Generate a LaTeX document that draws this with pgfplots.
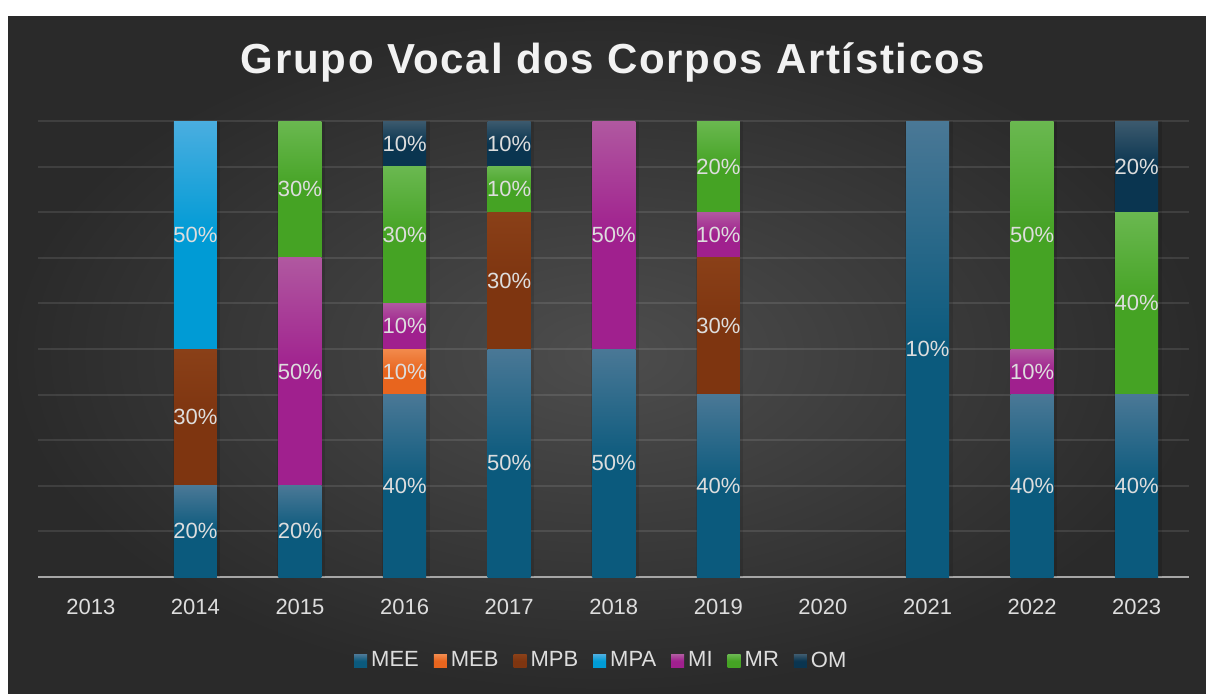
\documentclass[border=0pt]{standalone}
\usepackage{fontspec}
\setmainfont{Liberation Sans}
\newfontfamily\titlefont[LetterSpace=4]{Liberation Sans}
\usepackage{pgfplots}
\usepackage{pgfplotstable}
\pgfplotsset{compat=1.18}

\definecolor{bgin}{HTML}{4D4D4D}
\definecolor{bgout}{HTML}{2A2A2A}
\definecolor{basec}{HTML}{A6A6A6}
\definecolor{labc}{HTML}{DDDDDD}
\definecolor{titlec}{HTML}{F2F2F2}
% top / bottom colours of each series
\definecolor{meeT}{HTML}{4A7896}\definecolor{meeB}{HTML}{0B5A7D}
\definecolor{mebT}{HTML}{F28A4C}\definecolor{mebB}{HTML}{E8651E}
\definecolor{mpbT}{HTML}{8A4018}\definecolor{mpbB}{HTML}{7E3510}
\definecolor{mpaT}{HTML}{4AAEE0}\definecolor{mpaB}{HTML}{009BD5}
\definecolor{miT}{HTML}{B058A0}\definecolor{miB}{HTML}{A0208E}
\definecolor{mrT}{HTML}{6AB850}\definecolor{mrB}{HTML}{45A324}
\definecolor{omT}{HTML}{3C5A6E}\definecolor{omB}{HTML}{0A3550}

% shares in %, MEEl = printed label of MEE (2021 is drawn full height, labelled 10%)
\pgfplotstableread{
x MEE MEEl MEB MPB MPA MI MR OM
0 0   0  0  0  0  0  0  0
1 20  20 0  30 50 0  0  0
2 20  20 0  0  0  50 30 0
3 40  40 10 0  0  10 30 10
4 50  50 0  30 0  0  10 10
5 50  50 0  0  0  50 0  0
6 40  40 0  30 0  10 20 0
7 0   0  0  0  0  0  0  0
8 100 10 0  0  0  0  0  0
9 40  40 0  0  0  10 50 0
10 40 40 0  0  0  0  40 20
}\datatable

% one shaded segment per point, hanging down from the stacked top (2.28pt per %)
\newcommand\defbarmark[3]{%
  \pgfdeclareplotmark{#1}{%
    \ifdim\barh pt>0.5pt\relax
      \fill[draw=none, black, opacity=0.12] (-11.25pt,{-2.28pt*\barh}) rectangle (12.5pt,0pt);
      \shade[draw=none, top color=#2, bottom color=#3, middle color=#3] (-10.75pt,{-2.28pt*\barh}) rectangle (10.75pt,0pt);
    \fi}}
\defbarmark{segMEE}{meeT}{meeB}
\defbarmark{segMEB}{mebT}{mebB}
\defbarmark{segMPB}{mpbT}{mpbB}
\defbarmark{segMPA}{mpaT}{mpaB}
\defbarmark{segMI}{miT}{miB}
\defbarmark{segMR}{mrT}{mrB}
\defbarmark{segOM}{omT}{omB}

\pgfplotsset{
  seg/.style n args={3}{only marks, mark=seg#1, draw=none,
    visualization depends on={\thisrow{#1} \as \barh},
    legend image code/.code={\shade[draw=none, top color=#2, bottom color=#3, middle color=#3] (0pt,-3.25pt) rectangle (6.5pt,3.25pt);}},
}

\begin{document}
\begin{tikzpicture}
\fill[white] (0pt,0pt) rectangle (603pt,346.5pt);
\shade[inner color=bgin, outer color=bgout] (4pt,0pt) rectangle (603pt,338.5pt);
\node[font=\titlefont\bfseries\fontsize{21}{25}\selectfont, text=titlec] at (306.5pt,315.5pt) {Grupo Vocal dos Corpos Artísticos};
\begin{axis}[
  at={(19.25pt,58pt)}, anchor=south west,
  scale only axis, width=575.25pt, height=228pt,
  stack plots=y, clip=false,
  xmin=-0.5, xmax=10.5, ymin=0, ymax=100,
  xtick={0,...,10},
  xticklabels={2013,2014,2015,2016,2017,2018,2019,2020,2021,2022,2023},
  ytick={0,10,...,100}, yticklabels={},
  ymajorgrids, grid style={line width=1pt, white, opacity=0.1},
  axis x line*=bottom, axis y line*=left,
  x axis line style={draw=basec, line width=1.25pt, -},
  y axis line style={draw=none},
  major tick length=0pt, tick style={draw=none},
  xticklabel style={anchor=center, yshift=-15pt, font=\fontsize{11}{13}\selectfont, text=labc},
  point meta=explicit,
  /pgf/number format/assume math mode=true,
  nodes near coords={\pgfmathfloatifflags{\pgfplotspointmeta}{0}{}{\pgfmathprintnumber{\pgfplotspointmeta}\%}},
  every node near coord/.append style={anchor=center, yshift={-1.14pt*\barh}, font=\fontsize{11}{13}\selectfont, text=labc},
  legend columns=-1,
  legend style={at={(0.490,-0.184)}, anchor=center, draw=none, fill=none,
    font=\fontsize{11}{13}\selectfont, text=labc,
    /tikz/every even column/.append style={column sep=5.5pt}},
]
\addplot[seg={MEE}{meeT}{meeB}] table[x=x, y=MEE, meta=MEEl] {\datatable};
\addplot[seg={MEB}{mebT}{mebB}] table[x=x, y=MEB, meta=MEB] {\datatable};
\addplot[seg={MPB}{mpbT}{mpbB}] table[x=x, y=MPB, meta=MPB] {\datatable};
\addplot[seg={MPA}{mpaT}{mpaB}] table[x=x, y=MPA, meta=MPA] {\datatable};
\addplot[seg={MI}{miT}{miB}] table[x=x, y=MI, meta=MI] {\datatable};
\addplot[seg={MR}{mrT}{mrB}] table[x=x, y=MR, meta=MR] {\datatable};
\addplot[seg={OM}{omT}{omB}] table[x=x, y=OM, meta=OM] {\datatable};
\legend{MEE,MEB,MPB,MPA,MI,MR,OM}
\end{axis}
\end{tikzpicture}
\end{document}
